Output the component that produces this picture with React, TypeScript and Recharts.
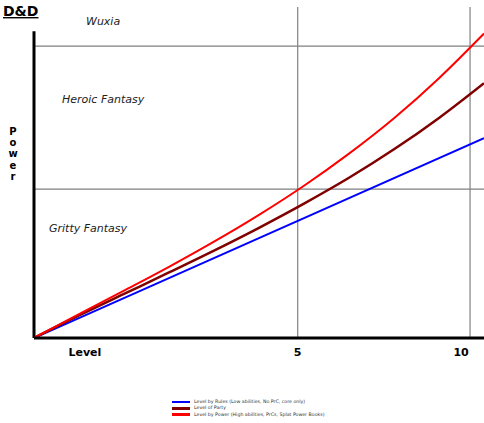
import React from 'react';
import { LineChart, Line, XAxis, YAxis, ReferenceLine } from 'recharts';

// x positions (0..100 across the plot) where curves are sampled
const progress = [0, 10, 20, 30, 40, 50, 60, 70, 80, 90, 100];
const highPower = [0, 7.2, 14.3, 21.5, 29.1, 37.2, 46.0, 55.7, 66.4, 78.5, 92.0];
const partyPower = [0, 6.8, 13.3, 19.8, 26.4, 33.3, 40.6, 48.4, 57.0, 66.5, 77.0];
const lowPowerX = [0, 100];
const lowPower = [0, 60.4];

const tickPositions = [11.3, 58.6, 94.9];
const tickLabels = ['Level', '5', '10'];
const levelGridX = [58.6, 96.9];
const powerGridY = [45.0, 88.2];
const yAxisTop = 92.7;

const regionLabels = ['Wuxia', 'Heroic Fantasy', 'Gritty Fantasy'];
const legendLabels = [
  'Level by Rules (Low abilities, No PrC, core only)',
  'Level of Party',
  'Level by Power (High abilities, PrCs, Splat Power Books)',
];

const curveData = progress.map((p, i) => ({ p, high: highPower[i], party: partyPower[i] }));
const lowData = lowPowerX.map((p, i) => ({ p, low: lowPower[i] }));

const series = [
  { name: legendLabels[0], color: '#0000ff', width: 2 },
  { name: legendLabels[1], color: '#800000', width: 2.5 },
  { name: legendLabels[2], color: '#ff0000', width: 2 },
];

const font = 'Verdana, "DejaVu Sans", sans-serif';

export default function App() {
  return (
    <div style={{ position: 'absolute', left: 0, top: 0, width: 484, height: 423, background: '#fff' }}>
      <LineChart
        width={484}
        height={423}
        data={curveData}
        margin={{ top: 7, right: 0, left: 34, bottom: 55 }}
      >
        <XAxis
          dataKey="p"
          type="number"
          domain={[0, 100]}
          ticks={tickPositions}
          tickFormatter={(v) => tickLabels[tickPositions.indexOf(v)]}
          axisLine={{ stroke: '#000', strokeWidth: 3 }}
          tickLine={false}
          tickMargin={4}
          height={30}
          tick={{ fill: '#000', fontSize: 11, fontWeight: 'bold', fontFamily: font }}
          allowDataOverflow
        />
        <YAxis type="number" domain={[0, 100]} hide allowDataOverflow />
        {levelGridX.map((x) => (
          <ReferenceLine key={'vx' + x} x={x} stroke="#808080" strokeWidth={1.2} />
        ))}
        {powerGridY.map((y) => (
          <ReferenceLine key={'hy' + y} y={y} stroke="#808080" strokeWidth={1.2} />
        ))}
        <ReferenceLine
          segment={[{ x: 0, y: 0 }, { x: 0, y: yAxisTop }]}
          stroke="#000"
          strokeWidth={3}
        />
        <Line
          data={lowData}
          dataKey="low"
          type="linear"
          stroke={series[0].color}
          strokeWidth={series[0].width}
          dot={false}
          isAnimationActive={false}
        />
        <Line
          dataKey="party"
          type="monotone"
          stroke={series[1].color}
          strokeWidth={series[1].width}
          dot={false}
          isAnimationActive={false}
        />
        <Line
          dataKey="high"
          type="monotone"
          stroke={series[2].color}
          strokeWidth={series[2].width}
          dot={false}
          isAnimationActive={false}
        />
      </LineChart>
      <svg
        width={484}
        height={423}
        style={{ position: 'absolute', left: 0, top: 0, pointerEvents: 'none' }}
      >
        <text x={3} y={16} fontFamily={font} fontSize={14} fontWeight="bold" fill="#000" textDecoration="underline">
          D&amp;D
        </text>
        {['P', 'o', 'w', 'e', 'r'].map((ch, i) => (
          <text key={i} x={13} y={135 + i * 11.2} textAnchor="middle" fontFamily={font} fontSize={10} fontWeight="bold" fill="#000">
            {ch}
          </text>
        ))}
        <text x={86} y={25} fontFamily={font} fontSize={11} fontStyle="italic" fill="#222">{regionLabels[0]}</text>
        <text x={62} y={103} fontFamily={font} fontSize={11} fontStyle="italic" fill="#222">{regionLabels[1]}</text>
        <text x={49} y={232} fontFamily={font} fontSize={11} fontStyle="italic" fill="#222">{regionLabels[2]}</text>
      </svg>
      <div style={{ position: 'absolute', left: 172, top: 399, fontFamily: font, fontSize: 4.7, color: '#333', lineHeight: '6.3px' }}>
        {series.map((s) => (
          <div key={s.name} style={{ display: 'flex', alignItems: 'center', height: 6.3 }}>
            <span style={{ display: 'inline-block', width: 18, height: 2.5, background: s.color, marginRight: 4 }} />
            <span style={{ whiteSpace: 'nowrap' }}>{s.name}</span>
          </div>
        ))}
      </div>
    </div>
  );
}
